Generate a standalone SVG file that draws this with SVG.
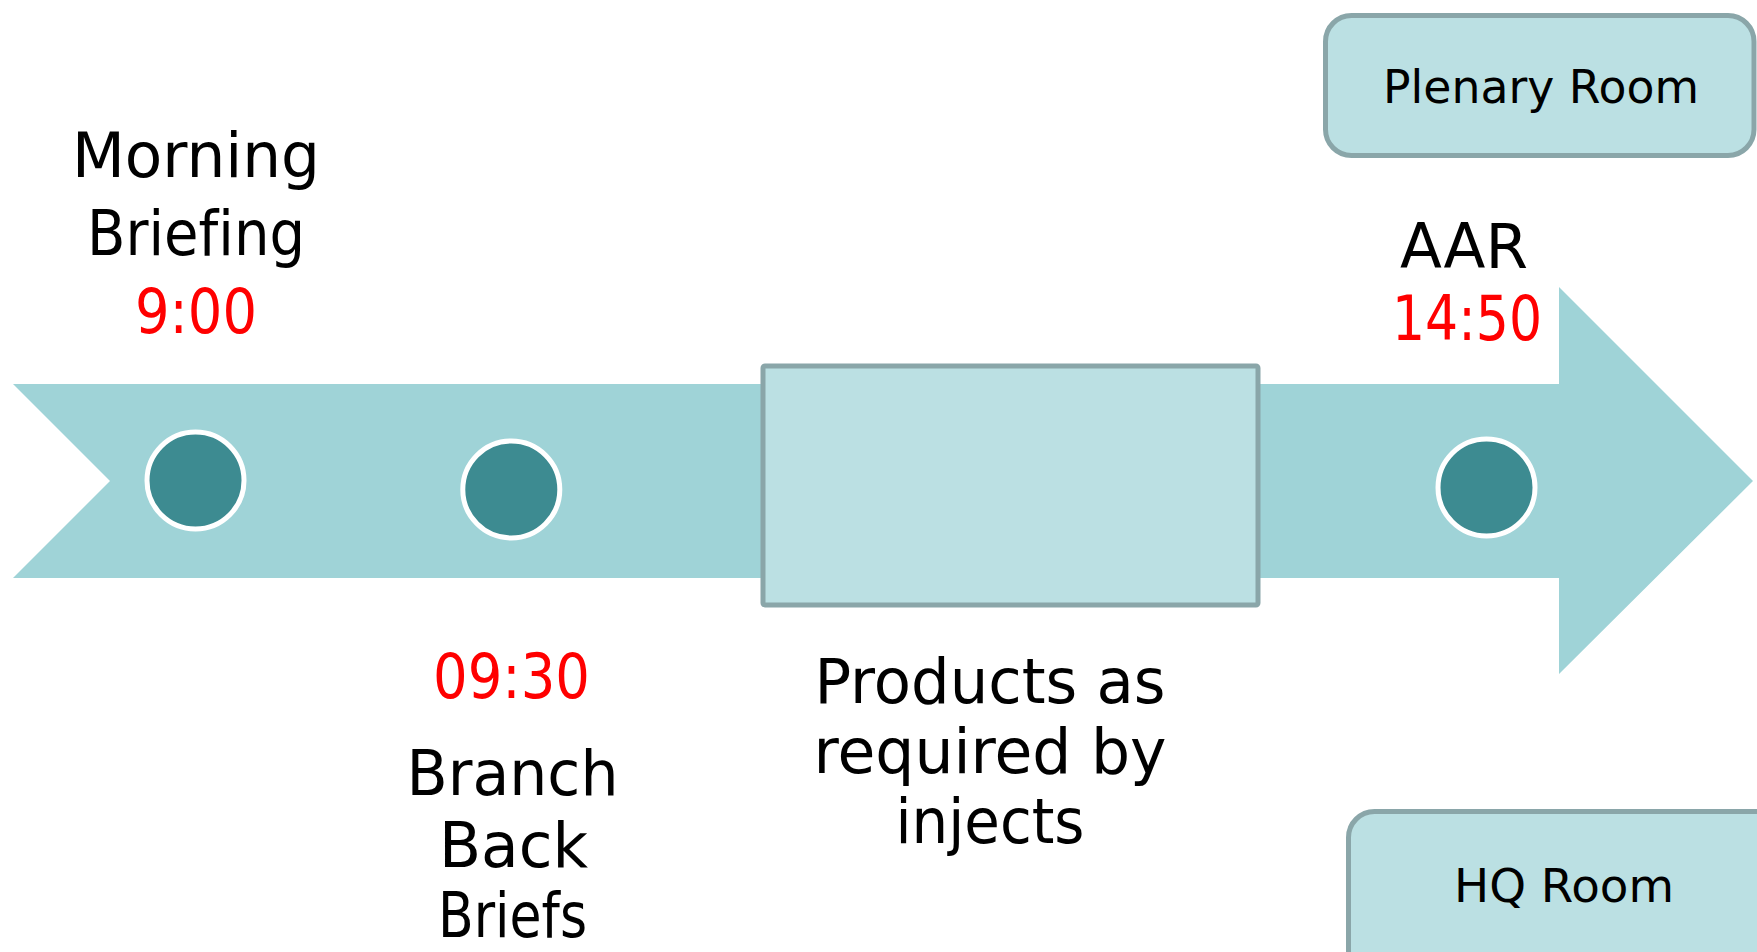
<svg xmlns="http://www.w3.org/2000/svg" width="1757" height="952" viewBox="0 0 1757 952">
<style>
text{font-family:"DejaVu Sans","Liberation Sans",sans-serif;text-anchor:middle;fill:#000;font-variant-ligatures:none}
.big{font-size:63px}
.room{font-size:47px}
.red{fill:#ff0000}
.box{fill:#bbe0e3;stroke:#8aa6a9;stroke-width:5}
.dot{fill:#3d8b91;stroke:#ffffff;stroke-width:5}
</style>
<rect width="1757" height="952" fill="#ffffff"/>
<g id="timeline">
<polygon points="13,384 1559,384 1559,287 1753,481 1559,674 1559,578 13,578 110,481" fill="#9fd3d7"/>
</g>
<g id="connectors"></g>
<g id="plenary-room">
<rect class="box" x="1325.5" y="15.5" width="428.5" height="140" rx="26"/>
<text class="room" x="1541" y="103" textLength="316" lengthAdjust="spacingAndGlyphs">Plenary Room</text>
</g>
<g id="hq-room">
<rect class="box" x="1348.5" y="811.5" width="440" height="180" rx="26"/>
<text class="room" x="1564" y="902" textLength="220" lengthAdjust="spacingAndGlyphs">HQ Room</text>
</g>
<g id="products-box">
<rect class="box" x="763" y="366" width="495" height="239" rx="2"/>
<text class="big" x="990" y="703" textLength="351" lengthAdjust="spacingAndGlyphs">Products as</text>
<text class="big" x="990" y="773" textLength="353" lengthAdjust="spacingAndGlyphs">required by</text>
<text class="big" x="990" y="843" textLength="189" lengthAdjust="spacingAndGlyphs">injects</text>
</g>
<g id="morning-briefing">
<circle class="dot" cx="195.5" cy="480.5" r="48.5"/>
<text class="big" x="196" y="177" textLength="248" lengthAdjust="spacingAndGlyphs">Morning</text>
<text class="big" x="196" y="255" textLength="218" lengthAdjust="spacingAndGlyphs">Briefing</text>
<text class="big red" x="196" y="333" textLength="122" lengthAdjust="spacingAndGlyphs">9:00</text>
</g>
<g id="branch-back-briefs">
<circle class="dot" cx="511.3" cy="489.5" r="48.5"/>
<text class="big red" x="511.5" y="698" textLength="157" lengthAdjust="spacingAndGlyphs">09:30</text>
<text class="big" x="512.5" y="795" textLength="212" lengthAdjust="spacingAndGlyphs">Branch</text>
<text class="big" x="513.5" y="866.5" textLength="149" lengthAdjust="spacingAndGlyphs">Back</text>
<text class="big" x="512.5" y="936.5" textLength="149" lengthAdjust="spacingAndGlyphs">Briefs</text>
</g>
<g id="aar">
<circle class="dot" cx="1486.5" cy="487.5" r="48.5"/>
<text class="big" x="1464" y="268" textLength="128" lengthAdjust="spacingAndGlyphs">AAR</text>
<text class="big red" x="1467" y="340" textLength="150" lengthAdjust="spacingAndGlyphs">14:50</text>
</g>
</svg>
